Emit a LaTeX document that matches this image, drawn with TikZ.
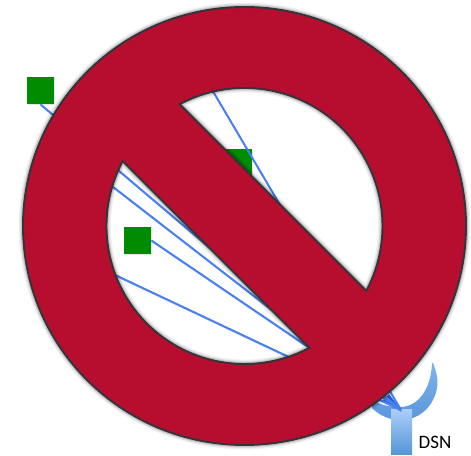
\documentclass[tikz,border=0pt]{standalone}
\usepackage{fontspec}
\setmainfont{Carlito}
\usetikzlibrary{shadows}
\definecolor{signred}{RGB}{183,14,48}
\definecolor{signedge}{RGB}{52,52,58}
\definecolor{satgreen}{RGB}{0,140,0}
\definecolor{linkblue}{RGB}{72,128,240}
\definecolor{dishtop}{RGB}{125,180,235}
\definecolor{dishlow}{RGB}{90,150,220}
\definecolor{masttop}{RGB}{170,205,248}
\definecolor{mastlow}{RGB}{85,150,215}
\definecolor{feedblue}{RGB}{40,90,215}
\newcommand{\signpath}{(4.89,4.58) ellipse[x radius=4.43,y radius=4.38]
  (4.89,4.58)+(118:2.76) arc[start angle=118,end angle=-28,radius=2.76] -- cycle
  (4.89,4.58)+(152:2.76) arc[start angle=152,end angle=298,radius=2.76] -- cycle}
\tikzset{
  sat/.style={fill=satgreen,minimum size=0.54cm,inner sep=0pt,drop shadow={shadow xshift=0.02cm,shadow yshift=-0.03cm,opacity=0.2}},
  link/.style={draw=linkblue,line width=1.15pt,preaction={draw=black,opacity=0.12,transform canvas={xshift=0.2pt,yshift=-0.8pt}}},
}
\begin{document}
\begin{tikzpicture}[x=1cm,y=1cm]
\useasboundingbox (0,0) rectangle (9.42,9.10);
% dish and mast
\shade[top color=dishtop,bottom color=dishlow]
  (8.64,1.84) .. controls (8.62,1.30) and (8.35,0.96) .. (8.00,0.96)
  .. controls (7.80,0.96) and (7.60,1.00) .. (7.46,1.10) -- (7.44,0.94)
  .. controls (7.60,0.78) and (7.80,0.70) .. (8.02,0.70)
  .. controls (8.35,0.70) and (8.62,0.92) .. (8.72,1.25)
  .. controls (8.79,1.47) and (8.72,1.70) .. (8.66,1.84) -- cycle;
\node[minimum width=0.42cm,minimum height=0.88cm,inner sep=0pt,top color=masttop,bottom color=mastlow] (mast) at (8.03,0.46) {};
\node[font=\fontsize{10.8pt}{12pt}\selectfont,inner sep=0pt] (dsn) at (8.70,0.26) {DSN};
\coordinate (feed) at (8.02,0.90);
\fill[feedblue] (7.64,1.08) -- (7.78,1.22) -- (feed) -- cycle;
% satellites
\node[sat] (sat1) at (0.81,7.29) {};
\node[sat] (sat2) at (2.75,4.29) {};
\node[sat] (sat3) at (4.77,5.84) {};
\coordinate (far1) at (1.90,5.64);
\coordinate (far2) at (1.90,3.79);
\coordinate (far3) at (3.89,7.90);
\draw[link] (sat1.south) -- (feed);
\draw[link] (sat2.east) -- (feed);
\draw[link] (far1) -- (feed);
\draw[link] (far2) -- (feed);
\draw[link] (far3) -- (feed);
% prohibition sign
\foreach \w/\o in {5pt/0.06,3.5pt/0.08,2.4pt/0.12} {
  \draw[black,opacity=\o,line width=\w] \signpath;
}
\draw[signedge,fill=signred,even odd rule,line width=1.1pt] \signpath;
\end{tikzpicture}
\end{document}
